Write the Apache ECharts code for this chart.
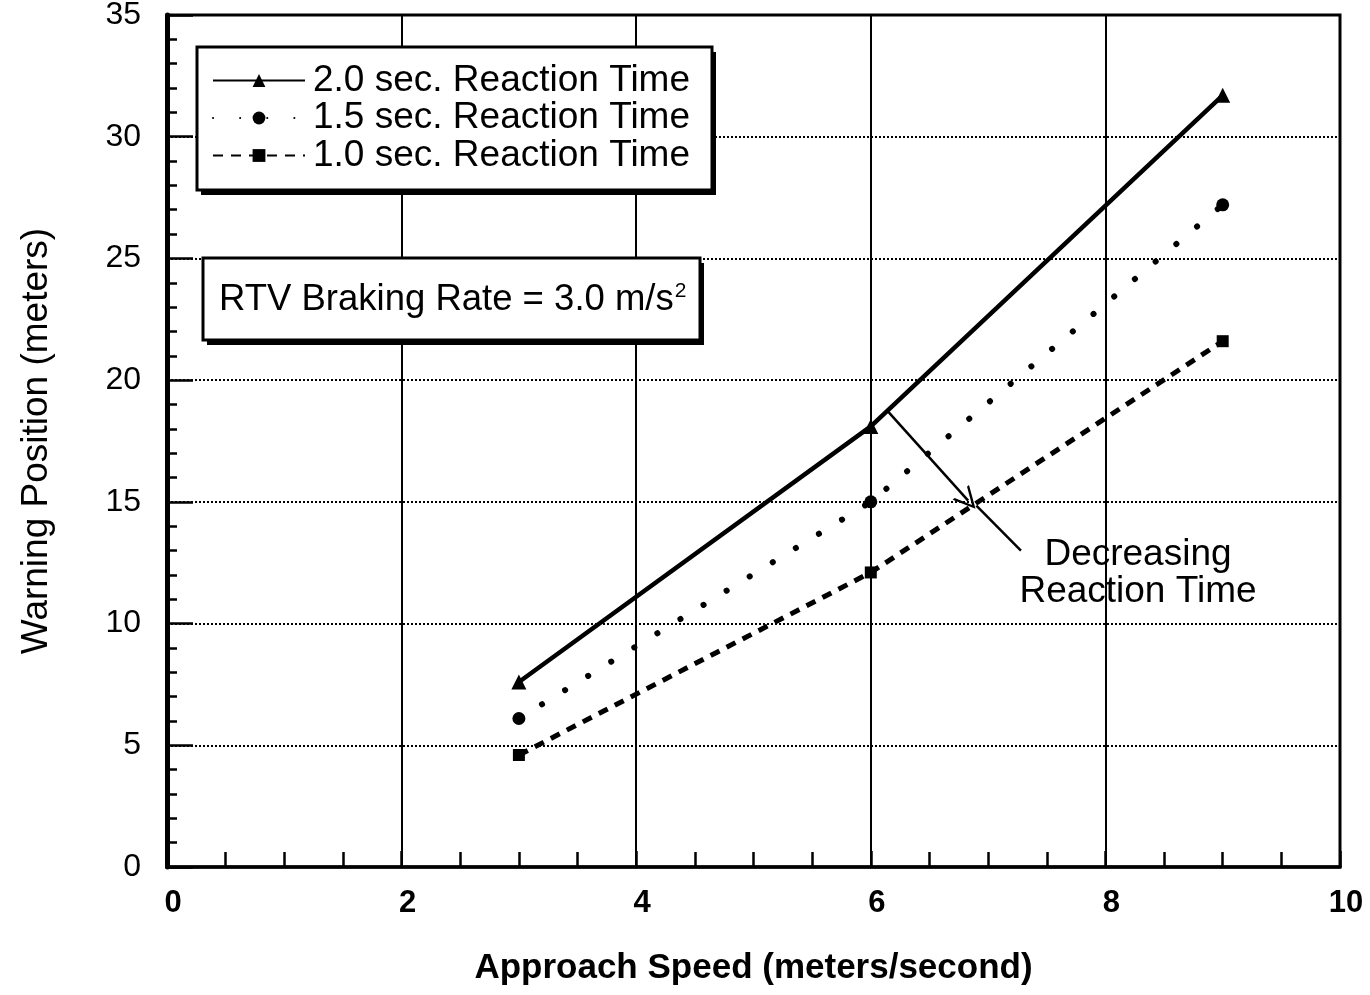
<!DOCTYPE html>
<html>
<head>
<meta charset="utf-8">
<style>
  html, body { margin: 0; padding: 0; background: #fff; }
  #chart { width: 1370px; height: 995px; }
</style>
<script src="https://cdn.jsdelivr.net/npm/echarts@6/dist/echarts.min.js"></script>
</head>
<body>
<div id="chart"></div>
<script>
// Approach speeds (m/s) at which the warning position was computed
const speeds = [3, 6, 9];

// Warning position (m) for each driver reaction time
const react20 = [7.6, 18.1, 31.7];
const react15 = [6.1, 15.0, 27.2];
const react10 = [4.6, 12.1, 21.6];

const seriesNames = [
  '2.0 sec. Reaction Time',
  '1.5 sec. Reaction Time',
  '1.0 sec. Reaction Time'
];

// "Decreasing reaction time" arrow and its leader line, in data units
const arrowFrom = [6.14, 18.75];
const arrowTo = [6.83, 15.05];
const leaderFrom = [6.9, 14.85];
const leaderTo = [7.28, 13.0];

const annotationText = 'Decreasing\nReaction Time';
const boxText = 'RTV Braking Rate = 3.0 m/s{sup|2}';

const xTitle = 'Approach Speed (meters/second)';
const yTitle = 'Warning Position (meters)';

const pairs = (ys) => speeds.map((x, i) => [x, ys[i]]);

const INK = '#000';
const SANS = '"Liberation Sans", Arial, Helvetica, sans-serif';

// open chevron used as the arrow head
const chevron = 'path://M0,10 L5,0 L10,10 L8.8,10 L5,2.4 L1.2,10 Z';

// framed box with a hard drop shadow (legend frame, braking-rate note)
function shadowBox(x, y, w, h) {
  return [
    { type: 'rect', z: 5, silent: true, shape: { x: x + 4, y: y + 5, width: w, height: h }, style: { fill: INK } },
    { type: 'rect', z: 5, silent: true, shape: { x: x, y: y, width: w, height: h }, style: { fill: '#fff', stroke: INK, lineWidth: 3 } }
  ];
}

const chart = echarts.init(document.getElementById('chart'), null, { renderer: 'canvas' });

chart.setOption({
  animation: false,
  backgroundColor: '#fff',
  grid: {
    left: 167, right: 30, top: 15, bottom: 128,
    containLabel: false,
    outerBoundsMode: 'none',
    show: true,
    borderColor: INK,
    borderWidth: 3,
    backgroundColor: 'transparent'
  },
  graphic: [
    ...shadowBox(197, 47, 515, 143),
    ...shadowBox(203, 258, 497, 82)
  ],
  title: [
    {
      text: boxText,
      left: 219, top: 281,
      padding: 0,
      z: 8,
      textStyle: {
        fontFamily: SANS,
        fontSize: 36.5,
        fontWeight: 'normal',
        lineHeight: 38,
        color: INK,
        rich: {
          sup: { fontFamily: SANS, fontSize: 21, lineHeight: 38, verticalAlign: 'top', padding: [0, 0, 16, 1], color: INK }
        }
      }
    },
    {
      text: annotationText,
      left: 1138, top: 536,
      textAlign: 'center',
      padding: 0,
      textStyle: {
        fontFamily: SANS,
        fontSize: 37,
        fontWeight: 'normal',
        lineHeight: 37,
        color: INK
      }
    }
  ],
  legend: {
    orient: 'vertical',
    left: 212, top: 62,
    padding: 0,
    z: 8,
    itemGap: 0.5,
    itemWidth: 92,
    itemHeight: 16,
    selectedMode: false,
    textStyle: { fontFamily: SANS, fontSize: 37, color: INK, lineHeight: 35, padding: [0, 0, 0, 3] },
    data: seriesNames
  },
  xAxis: [
    {
      type: 'value',
      min: 0, max: 10, interval: 2,
      name: xTitle,
      nameLocation: 'middle',
      nameGap: 84,
      nameTextStyle: { fontFamily: SANS, fontSize: 35, fontWeight: 'bold', color: INK },
      axisLine: { show: true, onZero: false, lineStyle: { color: INK, width: 3.5 } },
      axisTick: { show: true, inside: true, length: 16, lineStyle: { color: INK, width: 2.5 } },
      minorTick: { show: true, splitNumber: 4, length: 15, lineStyle: { color: INK, width: 2.5 } },
      axisLabel: {
        margin: 21,
        fontFamily: SANS, fontSize: 31, fontWeight: 'bold', color: INK,
        padding: [0, 0, 0, 12]
      },
      splitLine: { show: true, lineStyle: { color: INK, width: 2, type: 'solid' } },
      minorSplitLine: { show: false }
    }
  ],
  yAxis: [
    {
      type: 'value',
      min: 0, max: 35, interval: 5,
      name: yTitle,
      nameLocation: 'middle',
      nameGap: 112,
      nameRotate: 90,
      nameTextStyle: { fontFamily: SANS, fontSize: 37, color: INK },
      axisLine: { show: true, onZero: false, lineStyle: { color: INK, width: 3 } },
      axisTick: { show: true, inside: true, length: 26, lineStyle: { color: INK, width: 2.5 } },
      minorTick: { show: true, splitNumber: 5, length: 10, lineStyle: { color: INK, width: 2.5 } },
      axisLabel: { margin: 26, fontFamily: SANS, fontSize: 32, color: INK },
      splitLine: { show: true, lineStyle: { color: INK, width: 2, type: [2, 2] } }
    },
    {
      type: 'value',
      position: 'right',
      min: 0, max: 35, interval: 5,
      axisLine: { show: true, lineStyle: { color: INK, width: 5 } },
      axisTick: { show: false },
      axisLabel: { show: false },
      splitLine: { show: false }
    }
  ],
  series: [
    {
      name: seriesNames[0],
      type: 'line',
      data: pairs(react20),
      symbol: 'triangle',
      symbolSize: 15,
      itemStyle: { color: INK },
      lineStyle: { color: INK, width: 4.5, type: 'solid' },
      z: 3,
      markLine: {
        silent: true,
        symbol: ['none', chevron],
        symbolSize: [22, 22],
        label: { show: false },
        lineStyle: { color: INK, width: 2.5, type: 'solid' },
        data: [
          [{ coord: arrowFrom }, { coord: arrowTo }],
          [{ coord: leaderFrom, symbol: 'none' }, { coord: leaderTo, symbol: 'none' }]
        ]
      }
    },
    {
      name: seriesNames[1],
      type: 'line',
      data: pairs(react15),
      symbol: 'circle',
      symbolSize: 13,
      itemStyle: { color: INK },
      lineStyle: { color: INK, width: 6, type: [0.1, 27], cap: 'round' },
      z: 3
    },
    {
      name: seriesNames[2],
      type: 'line',
      data: pairs(react10),
      symbol: 'rect',
      symbolSize: 12,
      itemStyle: { color: INK },
      lineStyle: { color: INK, width: 5, type: [10, 8] },
      z: 3
    }
  ]
});
</script>
</body>
</html>
